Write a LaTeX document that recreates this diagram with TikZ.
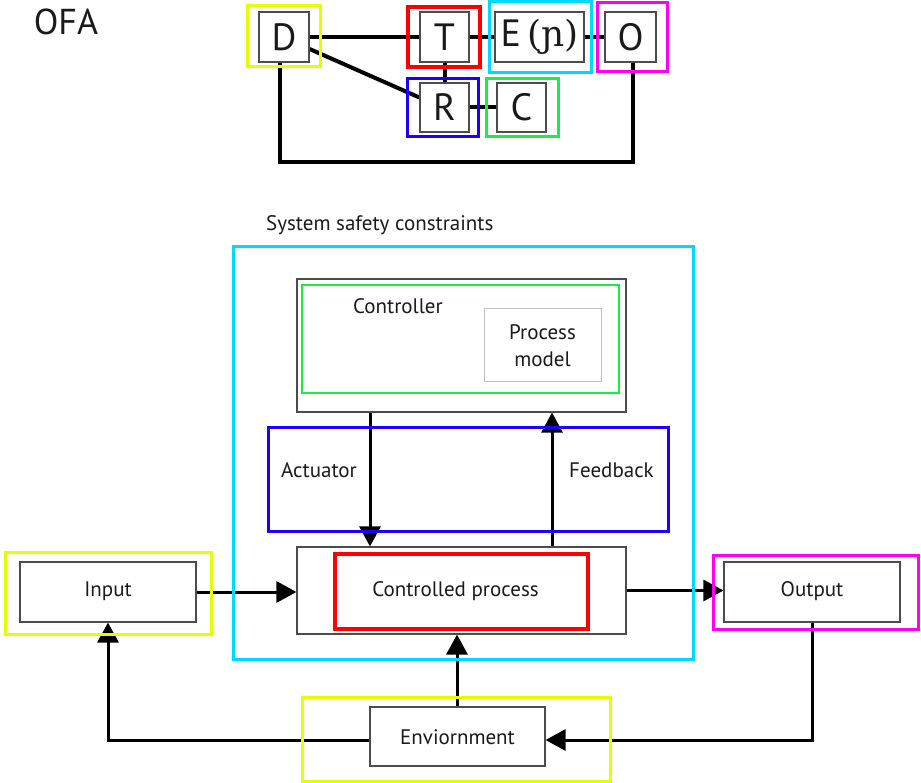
\documentclass[tikz,border=0pt]{standalone}
\usepackage{fontspec}
\setmainfont{PT Sans}
\newfontfamily\ipafont{DejaVu Serif}
\usetikzlibrary{arrows.meta,calc}

\definecolor{txt}{HTML}{1A1A1A}
\definecolor{frYellow}{HTML}{E4FF00}
\definecolor{frRed}{HTML}{FF0000}
\definecolor{frCyan}{HTML}{00D8FF}
\definecolor{frMagenta}{HTML}{FF00F0}
\definecolor{frBlue}{HTML}{1A00FF}
\definecolor{frGreen}{HTML}{18F040}

\tikzset{
  box/.style={draw=black!70, line width=1.3pt, fill=white, inner sep=0pt, text=txt},
  softbox/.style={draw=black!25, line width=1pt, fill=white, inner sep=0pt, text=txt, align=center},
  frame/.style={draw=#1, line width=3pt, inner sep=0pt, fill=none},
  link/.style={line width=4pt, black},
  flow/.style={line width=3pt, black, -{Triangle[length=20pt,width=21pt]}},
  letter/.style={box, font=\fontsize{38}{40}\selectfont},
  label/.style={text=txt, font=\fontsize{21}{25}\selectfont, inner sep=0pt},
}

% box from corner coordinates
\newcommand{\rectnode}[6]{%
  \node[#1, minimum width={#4-#2}, minimum height={#5-#3}] (#6) at ({(#2+#4)/2},{(#3+#5)/2}) {};}
\newcommand{\etext}{E\hspace{6pt}{\ipafont\fontsize{36}{40}\selectfont(ɲ)}}

\begin{document}
\begin{tikzpicture}[x=1pt,y=-1pt]
\useasboundingbox (0,0) rectangle (921,783);

% ---------------- OFA structure ----------------
\node[text=txt, font=\fontsize{36}{40}\selectfont, inner sep=0pt] (ofa) at (66,22) {OFA};

\node[letter, minimum width=50pt, minimum height=50pt] (d) at (284,37) {D};
\node[letter, minimum width=49pt, minimum height=50pt] (t) at (444.5,37) {T};
\node[letter, minimum width=89pt, minimum height=50pt] (e) at (539.5,37) {\etext};
\node[letter, minimum width=51pt, minimum height=50pt] (o) at (630.5,37) {O};
\node[letter, minimum width=49pt, minimum height=49pt] (r) at (444.5,107.5) {R};
\node[letter, minimum width=49pt, minimum height=49pt] (c) at (521.5,107.5) {C};

\coordinate (loop) at (450,162);
\draw[link] (d.east) -- (t.west);
\draw[link] (t.east) -- (e.west);
\draw[link] (e.east) -- (o.west);
\draw[link] (t.south) -- (r.north);
\draw[link] (r.east) -- (c.west);
\draw[link] ($(d.east)+(0,12)$) -- ($(r.west)+(0,-10)$);
\draw[link] ([xshift=-4pt]d.south) |- (loop) -| ([xshift=2pt]o.south);

% letter boxes again, over the link ends
\node[letter, minimum width=50pt, minimum height=50pt] at (d) {D};
\node[letter, minimum width=49pt, minimum height=50pt] at (t) {T};
\node[letter, minimum width=89pt, minimum height=50pt] at (e) {\etext};
\node[letter, minimum width=51pt, minimum height=50pt] at (o) {O};
\node[letter, minimum width=49pt, minimum height=49pt] at (r) {R};
\node[letter, minimum width=49pt, minimum height=49pt] at (c) {C};

\rectnode{frame=frYellow}{247}{6}{320}{67}{fd}
\rectnode{frame=frRed, line width=3.5pt}{408}{7}{480}{67}{ft}
\rectnode{frame=frCyan}{489}{1.5}{591}{73}{fe}
\rectnode{frame=frMagenta}{597}{3}{667}{72}{fo}
\rectnode{frame=frBlue}{407}{79}{478}{137}{fr}
\rectnode{frame=frGreen}{486}{79}{558}{137}{fc}

% ---------------- control structure ----------------
\node[label, anchor=west] (sys) at (266,225) {System safety constraints};

\rectnode{box, line width=1.1pt}{297}{279}{626}{412}{ctrl}
\node[label] (ctrltxt) at (398,306) {Controller};
\node[softbox, minimum width=117pt, minimum height=73pt, font=\fontsize{21}{27}\selectfont] (pm) at (542.5,345.5) {Process\\model};

\rectnode{box, line width=1.1pt}{297}{547}{626}{634}{cp}
\node[label] (cptxt) at (455.5,591) {Controlled process};

\rectnode{box, line width=1.1pt}{20}{562}{196}{622}{in}
\node[label] (intxt) at (108,591) {Input};
\rectnode{box, line width=1.1pt}{724}{562}{900}{622}{out}
\node[label] (outtxt) at (812,591) {Output};
\rectnode{box, line width=1.1pt}{370}{707}{545}{766}{env}
\node[label] (envtxt) at (457.5,737) {Enviornment};

\node[label] (act) at (319,470) {Actuator};
\node[label] (fb) at (611.5,470) {Feedback};

% connectors
\coordinate (ax) at (370,0);
\coordinate (fx) at (552,0);
\coordinate (ex) at (457,0);
\draw[flow] (ax |- ctrl.south) -- (ax |- cp.north);
\draw[flow] (fx |- cp.north) -- (fx |- ctrl.south);
\draw[flow] (in.east) -- (in.east -| cp.west);
\draw[flow] (cp.east) -- (cp.east -| out.west);
\draw[flow] (ex |- env.north) -- (ex |- cp.south);
\draw[flow] ($(env.west)+(0,3.5)$) -| (in.south);
\draw[flow] (out.south) |- ($(env.east)+(0,3.5)$);

% coloured frames
\rectnode{frame=frCyan}{233}{247}{693}{659}{fsys}
\rectnode{frame=frGreen, line width=2.5pt}{302}{285}{619}{393}{fctrl}
\rectnode{frame=frBlue}{268}{427}{668}{531}{fact}
\rectnode{frame=frRed, line width=3.5pt}{335}{554}{588}{629}{fcp}
\rectnode{frame=frYellow}{5}{552}{211}{634}{fin}
\rectnode{frame=frMagenta}{713}{555}{918}{629}{fout}
\rectnode{frame=frYellow}{302}{697}{610}{781}{fenv}

\end{tikzpicture}
\end{document}
